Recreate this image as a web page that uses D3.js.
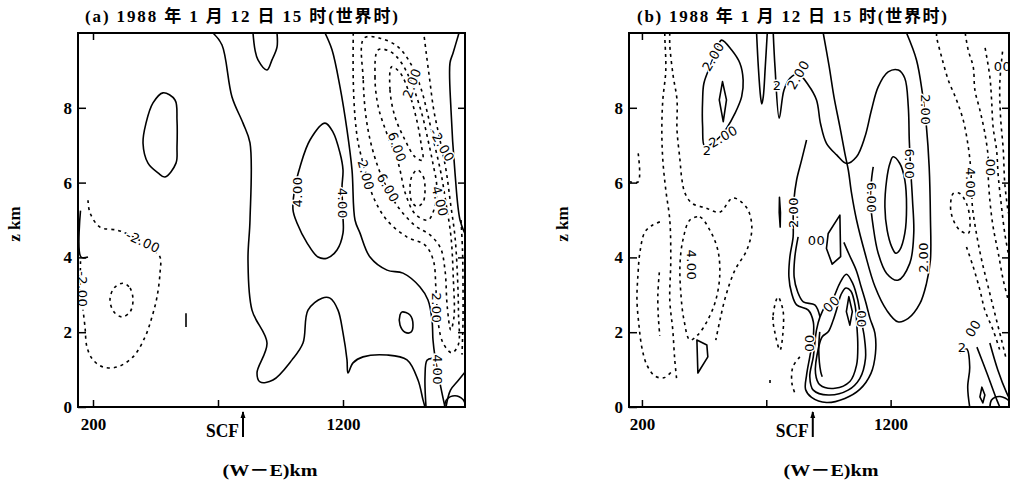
<!DOCTYPE html>
<html>
<head>
<meta charset="utf-8">
<style>
  body { margin: 0; background: #fff; }
  svg text { fill: #000; }
</style>
</head>
<body>
<svg id="chart" width="1015" height="481"></svg>
<script src="https://cdn.jsdelivr.net/npm/d3@7/dist/d3.min.js"></script>
<script>

// axis values
var xTicks = [200, 700, 1200];
var xTickText = {200: "200", 700: "", 1200: "1200"};
var zTicks = [0, 2, 4, 6, 8];
var scfA = 800, scfB = 887;
var titleA = "(a) 1988 年 1 月 12 日 15 时(世界时)";
var titleB = "(b) 1988 年 1 月 12 日 15 时(世界时)";

// ---- panel (a) contours, points are [x km, z km] ----
var aLine1 = [[680,10],[716,9.68],[756,8.29],[800,7.59],[828,7.06],[828,5.0],[820,3.93],[836,2.59],[896,1.71],[856,0.91],[868,0.67],[920,0.72],[996,1.26],[1040,1.71],[1060,2.59],[1116,2.91],[1148,2.91],[1180,2.59],[1200,1.98],[1216,1.26],[1220,0.91],[1240,1.18],[1280,1.34],[1376,1.39],[1456,1.26],[1500,0.72],[1520,0.19],[1528,0]];
var aLine2 = [[1128,10],[1156,9.55],[1188,8.56],[1216,7.41],[1236,6.34],[1248,5.0],[1268,4.65],[1308,4.01],[1376,3.66],[1440,3.58],[1508,3.21],[1540,2.86],[1556,2.33],[1560,1.79],[1568,1.34],[1580,0.91],[1596,0.37],[1608,0]];
var aLine3 = [[1532,0],[1528,0.8],[1536,1.25],[1556,1.3]];
var aLine4 = [[840,10],[848,9.55],[860,9.28],[896,9.01],[916,9.28],[936,9.62],[936,10]];
var aLine5 = [[1664,10],[1640,9.46],[1628,9.2],[1632,7.94],[1648,6.26],[1668,5.0],[1690,4.6]];
var aLine6 = [[150,5.25],[152,4.01],[180,4.01]];
var aLine7 = [[572,2.51],[572,2.14]];
var aLine8 = [[1612,0],[1630,0.45],[1660,0.7],[1690,0.95]];
var aLine9 = [[1606,0],[1615,0.2],[1648,0.3],[1680,0.2],[1690,0.05]];
var aLoop1 = [[480,8.40],[528,8.21],[536,7.67],[536,6.95],[532,6.52],[488,6.15],[460,6.26],[420,6.52],[400,7.06],[412,7.59],[440,8.13]];
var aLoop2 = [[1128,7.59],[1160,7.35],[1188,6.79],[1200,6.34],[1196,5.88],[1200,5.08],[1200,4.65],[1176,4.20],[1136,3.98],[1100,4.01],[1056,4.39],[1016,4.92],[1000,5.27],[1008,5.88],[1028,6.42],[1068,7.14]];
var aLoop3 = [[1436,2.54],[1468,2.46],[1480,2.19],[1472,2.0],[1448,2.0],[1428,2.19],[1428,2.46]];

var aDash1 = [[180,5.53],[188,5.19],[228,4.81],[296,4.73],[340,4.62],[400,4.4],[440,4.2],[468,4.01],[468,3.58],[456,2.94],[436,2.41],[408,1.87],[360,1.34],[296,1.07],[240,1.07],[200,1.26],[176,1.60],[168,2.14],[160,2.6]];
var aDash2 = [[1241,10],[1241,8.74],[1248,7.76],[1261,7.05],[1288,6.34],[1321,5.62],[1375,5.0],[1455,4.55],[1528,4.33],[1561,3.93],[1572,3.13],[1581,2.24],[1601,1.70],[1635,1.45],[1661,1.66],[1662,2.50],[1658,3.48],[1648,4.55],[1630,5.45],[1612,6.34],[1588,7.14],[1563,7.94],[1547,8.74],[1533,9.46],[1523,10]];
var aDash3 = [[1672,5.0],[1678,4.2],[1680,3.3],[1680,2.3],[1676,1.4]];
var aDash4 = [[150,3.9],[149,3.3],[150,2.6]];
var aDashLoop1 = [[320,3.31],[348,3.18],[360,2.86],[348,2.54],[316,2.41],[284,2.54],[268,2.86],[284,3.18]];
var aDashLoop2 = [[1284,9.86],[1281,8.74],[1292,7.76],[1315,6.96],[1355,6.16],[1415,5.4],[1488,4.85],[1548,4.6],[1590,4.25],[1608,3.66],[1617,2.68],[1631,2.06],[1644,2.41],[1641,3.48],[1632,4.55],[1612,5.45],[1592,6.25],[1565,7.05],[1538,7.85],[1510,8.56],[1470,9.19],[1420,9.63],[1348,9.86]];
var aDashLoop3 = [[1341,9.55],[1328,8.83],[1341,8.03],[1375,7.32],[1421,6.52],[1450,5.7],[1490,5.15],[1540,5.0],[1565,5.3],[1575,5.9],[1560,6.5],[1540,7.14],[1515,7.85],[1480,8.56],[1435,9.19],[1390,9.5]];
var aDashLoop4 = [[1497,6.34],[1521,6.16],[1528,5.85],[1521,5.49],[1497,5.36],[1475,5.49],[1468,5.85],[1475,6.16]];
var aDashLoop5 = [[1395,9.10],[1388,8.48],[1408,7.76],[1448,7.14],[1488,6.69],[1518,6.60],[1512,7.05],[1495,7.67],[1465,8.39],[1430,8.92]];

var aLabels = [["4.00",1018,5.75,-90],["4.00",1200,5.45,90],["2.00",1292,6.2,75],["6.00",1380,5.86,60],["6.00",1416,6.95,70],["2.00",1476,8.66,-70],["-2.00",1596,7.0,60],["4.00",1588,5.5,75],["2.00",1576,2.65,90],["4.00",1578,1.0,90],["-2.00",400,4.42,25],["-2.00",158,3.15,90]];

// ---- panel (b) contours ----
var bLine1 = [[661,10],[668,9.10],[677,8.3],[682,8.1],[688,8.3],[696,9.10],[704,10]];
var bLine2 = [[728,10],[735,9.10],[752,7.72],[771,8.47],[795,8.79],[829,8.90],[869,8.61],[902,8.21],[918,7.58],[942,7.05],[983,6.74],[1023,6.51],[1063,6.69],[1097,7.23],[1123,7.94],[1150,8.56],[1190,8.96],[1231,9.01],[1257,8.79],[1271,8.03],[1275,7.14],[1280,6.42],[1288,5.53],[1293,4.64],[1277,3.84],[1229,3.39],[1184,3.57],[1150,4.11],[1130,4.82],[1119,5.53],[1123,6.07],[1130,6.42]];
var bLine3 = [[929,10],[953,9.10],[972,8.30],[996,7.49],[1016,6.78],[1030,6.33],[1043,5.71],[1063,5.00],[1097,4.11],[1137,3.22],[1184,2.59],[1229,2.28],[1271,2.37],[1318,2.77],[1344,3.30],[1360,3.93],[1360,5.09],[1355,6.42],[1344,7.49],[1328,8.38],[1304,9.28],[1264,10]];
var bLine4 = [[862,7.14],[842,6.60],[822,6.07],[811,5.53],[808,5.00],[808,4.55],[795,4.02],[791,3.48],[802,3.04],[822,2.73],[869,2.59],[889,2.28],[889,1.88],[875,1.34],[862,0.85],[858,0.47],[882,0.26],[942,0.12],[1016,0.23],[1076,0.47],[1121,0.90],[1139,1.43],[1137,1.97],[1117,2.37],[1100,2.8],[1082,3.2],[1062,3.65],[1035,4.05],[1012,4.4]];
var bLine5 = [[828,4.55],[815,4.02],[812,3.48],[826,3.08],[849,2.81],[895,2.73],[916,2.41]];
var bLine6 = [[915,2.01],[911,1.52],[919,0.94],[925,0.81]];
var bLine7 = [[1478,1.44],[1506,1.55],[1518,1.07],[1510,0.53],[1518,0]];
var bLine8 = [[1547,1.60],[1587,0.91],[1627,0.19],[1639,0]];
var bLine9 = [[1599,1.71],[1631,0.99],[1667,0.37],[1680,0.2]];
var bLine10 = [[1599,0],[1605,0.18],[1620,0.26],[1640,0.28],[1660,0.24],[1680,0.15]];
var bLoop1 = [[520,9.81],[560,9.55],[594,9.19],[607,8.74],[601,8.30],[574,7.85],[540,7.45],[500,7.14],[453,6.96],[444,7.50],[444,8.21],[449,8.65],[473,9.10],[500,9.55]];
var bLoop2 = [[1210,6.69],[1237,6.51],[1257,6.07],[1264,5.35],[1257,4.64],[1237,4.20],[1221,4.11],[1204,4.29],[1186,4.73],[1177,5.35],[1184,6.07],[1197,6.51]];
var bLoop3 = [[902,2.06],[889,1.34],[875,0.81],[889,0.45],[949,0.32],[1029,0.45],[1076,0.76],[1099,1.30],[1094,1.88],[1080,2.37],[1068,2.86],[1048,3.3],[1022,3.55],[995,3.3],[965,2.86],[936,2.68],[916,2.41]];
var bLoop4 = [[911,1.61],[898,0.90],[916,0.59],[976,0.50],[1036,0.68],[1063,1.12],[1068,1.66],[1064,2.19],[1058,2.68],[1040,3.1],[1020,3.18],[1000,3.0],[987,2.7],[969,2.32],[949,2.01],[925,1.88]];
var bPoly1 = [[524,8.70],[540,8.21],[527,7.63],[511,8.21]];
var bPoly2 = [[1032,2.95],[1046,2.55],[1036,2.19],[1022,2.55]];
var bPoly3 = [[949,4.64],[996,5.13],[999,4.02],[965,3.82],[942,4.24]];
var bPoly4 = [[753,5.61],[757,5.2],[756,4.81],[752,5.2]];
var bPoly5 = [[421,1.79],[461,1.66],[465,1.34],[425,0.91]];
var bPoly6 = [[1567,0.53],[1579,0.32],[1571,0.11],[1559,0.27]];

var bDash1 = [[312,10],[312,9.68],[325,8.88],[341,8.21],[341,7.41],[353,6.60],[361,6.07],[373,5.72],[401,5.45],[457,5.32],[513,5.21],[566,5.59],[622,5.32],[642,4.79],[622,4.20],[574,3.66],[538,2.99],[514,2.33],[497,1.79]];
var bDash2 = [[292,10],[292,9.89],[296,9.01],[284,8.21],[280,7.41],[284,6.60],[296,5.80],[312,5.00],[316,3.93],[312,2.86],[324,2.06],[332,1.26],[340,0.72]];
var bDash3 = [[272,4.95],[244,4.87],[212,4.68],[192,4.14],[184,3.53],[180,2.86],[188,2.19],[200,1.58],[220,1.12],[252,0.83],[288,0.78],[320,0.95]];
var bDash4 = [[270,3.6],[264,3.0],[266,2.4],[272,1.9]];
var bDash5 = [[185,6.78],[185,6.02],[152,6.02]];
var bDash6 = [[835,1.34],[807,1.07],[803,0.64],[815,0.37]];
var bDash7 = [[1385,10],[1385,9.90],[1405,9.36],[1432,8.74],[1465,8.21],[1492,7.67],[1508,7.14],[1519,6.60],[1525,6.0],[1529,5.35],[1545,4.64],[1566,3.93],[1592,3.22],[1619,2.50],[1646,1.79],[1666,1.25]];
var bDash8 = [[1500,10],[1512,9.54],[1532,9.10],[1539,8.47],[1559,7.94],[1579,7.32],[1592,6.69],[1592,6.25],[1599,5.53],[1612,4.82],[1633,4.11],[1653,3.39],[1673,2.86]];
var bDash9 = [[1580,9.6],[1599,8.83],[1606,8.21],[1612,7.49],[1626,6.87],[1633,6.16],[1646,5.35],[1659,4.64],[1673,4.11]];
var bDash10 = [[1650,9.5],[1639,8.65],[1642,7.76],[1653,6.87],[1659,5.98],[1673,5.18]];
var bDash11 = [[1505,4.28],[1532,3.75],[1559,3.13],[1579,2.59],[1612,2.06],[1639,1.52]];
var bDash12 = [[715,0.72],[715,0.6]];
var bDashLoop1 = [[393,5.0],[433,5.08],[473,4.73],[505,4.20],[513,3.53],[497,2.86],[465,2.33],[425,1.93],[393,1.79],[369,2.33],[357,2.99],[353,3.80],[365,4.47]];
var bDashLoop2 = [[747,2.94],[727,2.41],[735,1.98],[755,1.52],[767,1.98],[767,2.59]];
var bDashLoop3 = [[1452,5.71],[1441,5.35],[1452,5.00],[1478,4.73],[1512,4.64],[1519,5.00],[1505,5.44],[1478,5.71]];

var bLabels = [["2.00",487,9.37,-60],["2.00",527,7.23,-30],["2",462,6.85,0],["2",744,8.6,0],["2.00",829,8.88,-60],["2.00",1340,7.95,90],["6.00",1276,6.5,90],["6.00",1122,5.6,90],["2.00",1330,4.0,-90],["2.00",810,5.2,-90],["00",902,4.46,0],["4.00",398,3.8,90],["4.00",1522,6.0,90],["00",1600,6.4,90],["00",1650,9.1,0],["00",962,2.75,-45],["00",1085,2.35,90],["00",873,1.7,90],["2",1488,1.6,0],["00",1532,2.1,-60]];

var panels = [
  {id: "a", left: 78, right: 465, xDomain: [140, 1688], scf: scfA, title: titleA, titleX: 85, titleLen: 313, zLabelX: 15, xLabelX: 270,
   lines: [aLine1, aLine2, aLine3, aLine4, aLine5, aLine6, aLine7, aLine8, aLine9],
   loops: [aLoop1, aLoop2, aLoop3], polys: [],
   dashes: [aDash1, aDash2, aDash3, aDash4],
   dashLoops: [aDashLoop1, aDashLoop2, aDashLoop3, aDashLoop4, aDashLoop5],
   labels: aLabels},
  {id: "b", left: 629, right: 1009, xDomain: [148, 1676], scf: scfB, title: titleB, titleX: 637, titleLen: 310, zLabelX: 563, xLabelX: 831,
   lines: [bLine1, bLine2, bLine3, bLine4, bLine5, bLine6, bLine7, bLine8, bLine9, bLine10],
   loops: [bLoop1, bLoop2, bLoop3, bLoop4], polys: [bPoly1, bPoly2, bPoly3, bPoly4, bPoly5, bPoly6],
   dashes: [bDash1, bDash2, bDash3, bDash4, bDash5, bDash6, bDash7, bDash8, bDash9, bDash10, bDash11, bDash12],
   dashLoops: [bDashLoop1, bDashLoop2, bDashLoop3],
   labels: bLabels}
];

var plotTop = 33, plotBottom = 407;
var serif = "'Liberation Serif', 'Noto Sans CJK SC', serif";
var svg = d3.select("#chart");

panels.forEach(function(p) {
  var x = d3.scaleLinear().domain(p.xDomain).range([p.left, p.right]);
  var y = d3.scaleLinear().domain([0, 10]).range([plotBottom, plotTop]);
  var g = svg.append("g");

  g.append("clipPath").attr("id", "clip-" + p.id)
    .append("rect").attr("x", p.left).attr("y", plotTop)
    .attr("width", p.right - p.left).attr("height", plotBottom - plotTop);

  var plot = g.append("g").attr("clip-path", "url(#clip-" + p.id + ")");

  var open = d3.line().x(function(d) { return x(d[0]); }).y(function(d) { return y(d[1]); })
    .curve(d3.curveCatmullRom.alpha(0.5));
  var closed = d3.line().x(function(d) { return x(d[0]); }).y(function(d) { return y(d[1]); })
    .curve(d3.curveCatmullRomClosed.alpha(0.5));
  var poly = d3.line().x(function(d) { return x(d[0]); }).y(function(d) { return y(d[1]); })
    .curve(d3.curveLinearClosed);

  function draw(list, gen, dashed) {
    plot.selectAll(null).data(list).enter().append("path")
      .attr("d", gen)
      .attr("fill", "none")
      .attr("stroke", "#000")
      .attr("stroke-width", 1.6)
      .attr("stroke-linejoin", "round")
      .attr("stroke-dasharray", dashed ? "3,4" : null);
  }
  draw(p.lines, open, false);
  draw(p.loops, closed, false);
  draw(p.polys, poly, false);
  draw(p.dashes, open, true);
  draw(p.dashLoops, closed, true);

  // contour labels, white halo cuts the line under them
  plot.selectAll(null).data(p.labels).enter().append("text")
    .attr("transform", function(d) { return "translate(" + x(d[1]) + "," + y(d[2]) + ") rotate(" + d[3] + ")"; })
    .attr("text-anchor", "middle")
    .attr("dy", "0.35em")
    .attr("font-family", "'DejaVu Sans', sans-serif")
    .attr("font-size", 13)
    .attr("letter-spacing", 0.5)
    .attr("stroke", "#fff")
    .attr("stroke-width", 3)
    .attr("paint-order", "stroke")
    .text(function(d) { return d[0]; });

  // frame
  g.append("rect")
    .attr("x", p.left).attr("y", plotTop)
    .attr("width", p.right - p.left).attr("height", plotBottom - plotTop)
    .attr("fill", "none").attr("stroke", "#000").attr("stroke-width", 2);

  // axes, ticks point inward
  var axB = g.append("g").attr("transform", "translate(0," + plotBottom + ")")
    .call(d3.axisBottom(x).tickValues(xTicks).tickSizeInner(-7).tickSizeOuter(0).tickPadding(11)
      .tickFormat(function(d) { return xTickText[d]; }));
  var axL = g.append("g").attr("transform", "translate(" + p.left + ",0)")
    .call(d3.axisLeft(y).tickValues(zTicks).tickSizeInner(-8).tickSizeOuter(0).tickPadding(6));
  var axR = g.append("g").attr("transform", "translate(" + p.right + ",0)")
    .call(d3.axisRight(y).tickValues(zTicks.slice(1)).tickSizeInner(-7).tickSizeOuter(0).tickFormat(""));
  var axT = g.append("g").attr("transform", "translate(0," + plotTop + ")")
    .call(d3.axisTop(x).tickValues([200]).tickSizeInner(-7).tickSizeOuter(0).tickFormat(""));
  [axB, axL, axR, axT].forEach(function(a) {
    a.select(".domain").remove();
    a.selectAll("line").attr("stroke", "#000").attr("stroke-width", 1.5);
    a.selectAll("text").attr("font-family", serif).attr("font-weight", "bold").attr("font-size", 17);
  });

  // SCF marker
  var sx = x(p.scf);
  g.append("line").attr("x1", sx).attr("x2", sx).attr("y1", plotBottom + 5).attr("y2", plotBottom + 30)
    .attr("stroke", "#000").attr("stroke-width", 2);
  g.append("path")
    .attr("d", "M" + (sx - 2.5) + "," + (plotBottom + 11) + "L" + sx + "," + (plotBottom + 4) + "L" + (sx + 2.5) + "," + (plotBottom + 11) + "Z")
    .attr("fill", "#000");
  g.append("text").attr("x", sx - 4).attr("y", plotBottom + 30)
    .attr("text-anchor", "end")
    .attr("font-family", serif).attr("font-weight", "bold").attr("font-size", 18)
    .attr("textLength", 33).attr("lengthAdjust", "spacingAndGlyphs")
    .text("SCF");

  // titles
  g.append("text").attr("x", p.titleX).attr("y", 22)
    .attr("font-family", serif).attr("font-weight", "bold").attr("font-size", 17)
    .attr("textLength", p.titleLen).attr("lengthAdjust", "spacing")
    .text(p.title);

  g.append("text")
    .attr("transform", "translate(" + (p.zLabelX + 5) + ",224) rotate(-90)")
    .attr("text-anchor", "middle")
    .attr("font-family", serif).attr("font-weight", "bold").attr("font-size", 17)
    .text("z km");

  g.append("text").attr("x", p.xLabelX).attr("y", 476)
    .attr("text-anchor", "middle")
    .attr("font-family", serif).attr("font-weight", "bold").attr("font-size", 17)
    .attr("textLength", 95).attr("lengthAdjust", "spacingAndGlyphs")
    .text("(W－E)km");
});
</script>
</body>
</html>
